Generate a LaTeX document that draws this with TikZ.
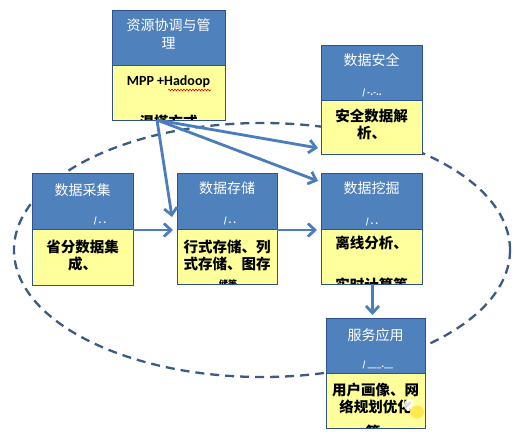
\documentclass[tikz,border=0pt]{standalone}
\usepackage{fontspec}
\setmainfont{Noto Sans CJK SC}
\newfontfamily\lat{Carlito}
\usetikzlibrary{arrows.meta,decorations.pathmorphing}
\definecolor{hdrc}{HTML}{4F81BD}
\definecolor{bordc}{HTML}{2F528F}
\definecolor{yel}{HTML}{FFFF9C}
\definecolor{arrc}{HTML}{4A7EBB}
\definecolor{ellc}{HTML}{3B5A85}
\definecolor{blob}{HTML}{FFE94D}
\tikzset{
  part/.style={draw=bordc, line width=0.9pt, anchor=north west, inner sep=0pt, outer sep=0pt},
  hdr/.style={part, fill=hdrc},
  bod/.style={part, fill=yel},
  htxt/.style={text=white, font=\fontsize{14}{18}\selectfont, align=center, inner sep=0pt},
  mtxt/.style={text=white, font=\bfseries\fontsize{8}{9}\selectfont, inner sep=0pt},
  btxt/.style={text=black, font=\bfseries\fontsize{14.5}{17}\selectfont, align=center, inner sep=0pt},
  arr/.style={draw=arrc, line width=2.8pt, -{Straight Barb[length=7pt,width=13pt]}},
}
% name, left, top, divide, right, bottom
\newcommand\diagbox[6]{%
  \node[hdr, minimum width={(#5-#2)*1pt}, minimum height={(#4-#3)*1pt}] (#1-h) at (#2,#3) {};
  \node[bod, minimum width={(#5-#2)*1pt}, minimum height={(#6-#4)*1pt}] (#1-b) at (#2,#4) {};
}
\begin{document}
\begin{tikzpicture}[x=1pt,y=-1pt]
\useasboundingbox[fill=white] (0,0) rectangle (518,437);
% dashed ellipse
\draw[ellc, line width=2.3pt, dash pattern=on 9pt off 6pt] (262,250) ellipse [x radius=248pt, y radius=127pt];

% boxes
\diagbox{res}{112}{10}{65}{225}{120}
\diagbox{sec}{321}{45}{100}{422}{154}
\diagbox{col}{32}{173}{229}{133}{285}
\diagbox{sto}{177}{173}{229}{277}{284}
\diagbox{min}{321}{173}{229}{422}{284}
\diagbox{app}{326}{318}{373}{425}{428}

% header texts
\node[htxt] (t-res) at (168.5,34) {资源协调与管\\理};
\node[htxt] (t-sec) at (371.5,60) {数据安全};
\node[htxt] (t-col) at (82.5,190) {数据采集};
\node[htxt] (t-sto) at (227,188) {数据存储};
\node[htxt] (t-min) at (371.5,188) {数据挖掘};
\node[htxt] (t-app) at (375.5,335) {服务应用};

% clipped header marks
\node[mtxt] (m-sec) at (372,93) {/ -.-..};
\node[mtxt] (m-col) at (100,221) {/ .\ .};
\node[mtxt] (m-sto) at (230,221) {/ .\ .};
\node[mtxt] (m-min) at (372,222) {/ .\ .};
\node[mtxt] (m-app) at (378,365) {/ \_\_\_.\_\_};

% body texts
\node[btxt, font=\lat\bfseries\fontsize{14}{17}\selectfont] (b-res) at (168.5,82) {MPP +Hadoop};
\draw[red, line width=0.6pt, decorate, decoration={snake, amplitude=0.9pt, segment length=3pt}] (168,90) -- (211,90);
\node[btxt] (b-sec) at (371.5,124) {安全数据解\\析、};
\node[btxt] (b-col) at (82.5,255.5) {省分数据集\\成、};
\node[btxt] (b-sto) at (227,255) {行式存储、列\\式存储、图存};
\node[btxt] (b-min) at (371.5,243) {离线分析、};
\node[btxt] (b-app) at (375.5,398.5) {用户画像、网\\络规划优化};

% clipped third lines
\begin{scope}
  \clip (113,66) rectangle (224,119);
  \node[btxt] (c-res) at (168.5,122) {混搭方式};
\end{scope}
\begin{scope}
  \clip (178,230) rectangle (276,283);
  \node[btxt, font=\bfseries\fontsize{9}{10}\selectfont] (c-sto) at (228,284) {储等};
\end{scope}
\begin{scope}
  \clip (322,230) rectangle (421,283);
  \node[btxt] (c-min) at (371.5,285) {实时计算等};
\end{scope}
\begin{scope}
  \clip (327,374) rectangle (424,427);
  \node[btxt] (c-app) at (373,432) {等};
\end{scope}

% cursor blob
\fill[white, opacity=0.85] (409,405) ellipse [x radius=5pt, y radius=6pt];
\fill[blob] (417,412) ellipse [x radius=7pt, y radius=6.5pt];

% arrows
\coordinate (src) at (157,120);
\coordinate (e1) at (172,217);
\coordinate (e2) at (318,148);
\coordinate (e3) at (318,181);
\draw[arr] (src) -- (e1);
\draw[arr] (src) -- (e2);
\draw[arr] (src) -- (e3);
\draw[arr] (col-b.north east) ++(0,1) -- ++(40,0) coordinate (e4);
\draw[arr] (sto-b.north east) ++(0,1) -- ++(40,0) coordinate (e5);
\draw[arr] (min-b.south) ++(1,0) -- ++(0,31) coordinate (e6);
\end{tikzpicture}
\end{document}
